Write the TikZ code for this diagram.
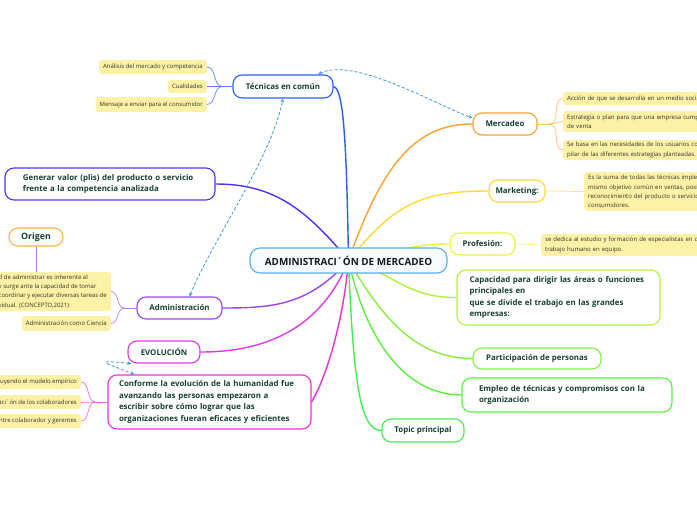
\documentclass[tikz,border=0pt]{standalone}
\usepackage{fontspec}
\setmainfont{Open Sans}
\usetikzlibrary{arrows.meta,backgrounds}
\definecolor{txt}{HTML}{173F35}
\definecolor{leaftxt}{HTML}{33332A}
\definecolor{leafy}{HTML}{FDF1A6}
\definecolor{cenblue}{HTML}{5AAEE8}
\definecolor{cenfill}{HTML}{F7FBFE}
\definecolor{cblue}{HTML}{2F5CF5}
\definecolor{cviolet}{HTML}{4A35EE}
\definecolor{cpurple}{HTML}{9B44F0}
\definecolor{cmag}{HTML}{E03AE6}
\definecolor{cpink}{HTML}{F02ED6}
\definecolor{corange}{HTML}{FFA234}
\definecolor{corange2}{HTML}{FFB04A}
\definecolor{cyellow}{HTML}{FFD83A}
\definecolor{cyg}{HTML}{EAF23F}
\definecolor{clg}{HTML}{B3F03E}
\definecolor{cg1}{HTML}{88EE44}
\definecolor{cg2}{HTML}{5EEE44}
\definecolor{cg3}{HTML}{44EE55}
\definecolor{lblue}{HTML}{5A85FF}
\definecolor{lorange}{HTML}{FFC06A}
\definecolor{lyellow}{HTML}{FFE36A}
\definecolor{lyg}{HTML}{F3F78A}
\definecolor{lpurple}{HTML}{B77CF5}
\definecolor{lpink}{HTML}{F56ADF}
\definecolor{relblue}{HTML}{3A96E8}
\begin{document}
\begin{tikzpicture}[x=1pt,y=-1pt,
  topic/.style={draw, line width=1.1pt, rounded corners=9pt, fill=white, text=txt,
    font=\fontsize{7.9}{11.5}\selectfont\bfseries, inner sep=0pt},
  leaf/.style={fill=leafy, rounded corners=3pt, text=leaftxt,
    font=\fontsize{6}{9.2}\selectfont, inner xsep=4pt, inner ysep=2pt, align=left, minimum height=14pt},
  conn/.style={line width=1.4pt},
  lconn/.style={line width=0.7pt},
  rel/.style={draw=relblue, line width=0.8pt, dash pattern=on 3pt off 2pt,
    {Stealth[length=4pt,width=3.5pt]}-{Stealth[length=4pt,width=3.5pt]}}]

\useasboundingbox (0,0) rectangle (697,520);

% central
\node[topic, draw=cenblue, fill=cenfill, minimum width=197pt, minimum height=25pt, text=black!90,
  font=\fontsize{9.9}{11}\selectfont\bfseries, rounded corners=10pt] (cen) at (348.5,260.5) {ADMINISTRACI´ÓN DE MERCADEO};

% topics
\node[topic, draw=cblue, minimum width=100pt, minimum height=23pt] (tec) at (283,86.5) {Técnicas en común};
\node[topic, draw=corange, minimum width=64pt, minimum height=22pt] (mer) at (505,124) {Mercadeo};
\node[topic, draw=cyellow, minimum width=56pt, minimum height=22pt] (mkt) at (517,191) {Marketing:};
\node[topic, draw=cyg, minimum width=65pt, minimum height=22pt] (pro) at (482.5,244) {Profesión:};
\node[topic, draw=clg, minimum width=203pt, minimum height=55pt, align=left, text width=178pt] (cap) at (558.5,297.5)
  {Capacidad para dirigir las áreas o funciones\\principales en\\que se divide el trabajo en las grandes\\empresas:};
\node[topic, draw=cg1, minimum width=128pt, minimum height=21pt] (par) at (537,358.5) {Participación de personas};
\node[topic, draw=cg2, minimum width=210pt, minimum height=34pt, align=left, text width=176pt] (emp) at (567,395)
  {Empleo de técnicas y compromisos con la\\organización};
\node[topic, draw=cg3, minimum width=82pt, minimum height=23pt] (top) at (423,430.5) {Topic principal};
\node[topic, draw=cviolet, minimum width=210pt, minimum height=32pt, align=left, text width=174pt] (gen) at (110,184)
  {Generar valor (plis) del producto o servicio\\frente a la competencia analizada};
\node[topic, draw=corange2, minimum width=54pt, minimum height=18pt, font=\fontsize{8.8}{10}\selectfont\bfseries] (ori) at (36,237) {Origen};
\node[topic, draw=cpurple, minimum width=85pt, minimum height=22pt] (adm) at (179.5,308) {Administración};
\node[topic, draw=cmag, minimum width=72pt, minimum height=22pt] (evo) at (164,352) {EVOLUCIÓN};
\node[topic, draw=cpink, minimum width=203pt, minimum height=54pt, align=left, text width=181pt] (con) at (209.5,402)
  {Conforme la evolución de la humanidad fue\\avanzando las personas empezaron a\\escribir sobre cómo lograr que las\\organizaciones fueran eficaces y eficientes};

% leaves
\node[leaf, anchor=east] (t1) at (207,67) {Análisis del mercado y competencia};
\node[leaf, anchor=east, minimum height=13pt] (t2) at (207,86.5) {Cualidades};
\node[leaf, anchor=east, minimum height=15pt] (t3) at (207,104.5) {Mensaje a enviar para el consumidor};

\node[leaf, anchor=west, text width=150pt, minimum height=13pt] (m1) at (563,98.5) {Acción de que se desarrolla en un medio socia};
\node[leaf, anchor=west, text width=150pt, minimum height=21pt] (m2) at (563,121.5) {Estrategia o plan para que una empresa cump\\de venta};
\node[leaf, anchor=west, text width=150pt, minimum height=20pt] (m3) at (563,150) {Se basa en las necesidades de los usuarios co\\pilar de las diferentes estrategias planteadas.};

\node[leaf, anchor=west, text width=130pt, minimum height=39pt] (k1) at (584,191.5)
  {Es la suma de todas las técnicas implem\\mismo objetivo común en ventas, posi\\reconocimiento del producto o servicio\\consumidores.};
\node[leaf, anchor=west, text width=170pt, minimum height=22pt] (p1) at (541,245)
  {se dedica al estudio y formación de especialistas en di\\trabajo humano en equipo.};

\node[leaf, anchor=east, minimum height=39pt] (a1) at (111,291.5)
  {d de administrar es inherente al\\y surge ante la capacidad de tomar\\coordinar y ejecutar diversas tareas de\\vidual. (CONCEPTO,2021)};
\node[leaf, anchor=east, minimum height=15pt] (a2) at (111,323.5) {Administración como Ciencia};

\node[leaf, anchor=east] (c1) at (81,382) {uyendo el modelo empírico};
\node[leaf, anchor=east] (c2) at (81,402) {aci´ón de los colaboradores};
\node[leaf, anchor=east] (c3) at (81,421) {ntre colaborador y gerentes};

% junctions
\path (tec.west) ++(-10,0) coordinate (tj);
\path (mer.east) ++(12,0) coordinate (mj);
\path (adm.west) ++(-12,0) coordinate (aj);
\path (con.west) ++(-12,0) coordinate (cj);

\begin{scope}[on background layer]
\fill[white] (0,0) rectangle (697,520);
% main connectors
\draw[conn, draw=cblue] (cen.center) .. controls +(-2,-120) and +(10,2) .. (tec.east);
\draw[conn, draw=cviolet] (cen.center) .. controls +(-45,-55) and +(55,0) .. (gen.east);
\draw[conn, draw=cpurple] (cen.center) .. controls +(-40,45) and +(50,0) .. (adm.east);
\draw[conn, draw=cmag] (cen.center) .. controls +(-30,75) and +(55,0) .. (evo.east);
\draw[conn, draw=cpink] (cen.center) .. controls +(-5,60) and +(15,-25) .. (con.east);
\draw[conn, draw=corange] (cen.center) .. controls +(35,-100) and +(-55,0) .. (mer.west);
\draw[conn, draw=cyellow] (cen.center) .. controls +(45,-55) and +(-70,0) .. (mkt.west);
\draw[conn, draw=cyg] (cen.center) .. controls +(50,-8) and +(-40,0) .. (pro.west);
\draw[conn, draw=clg] (cen.center) .. controls +(50,15) and +(-50,0) .. (cap.west);
\draw[conn, draw=cg1] (cen.center) .. controls +(35,60) and +(-55,0) .. (par.west);
\draw[conn, draw=cg2] (cen.center) .. controls +(20,90) and +(-50,0) .. (emp.west);
\draw[conn, draw=cg3] (cen.center) .. controls +(5,130) and +(-20,0) .. (top.west);

% leaf connectors
\draw[lconn, draw=lblue] (tec.west) -- (tj);
\draw[lconn, draw=lblue] (tj) to[out=180,in=0] (t1.east);
\draw[lconn, draw=lblue] (tj) to[out=180,in=0] (t2.east);
\draw[lconn, draw=lblue] (tj) to[out=180,in=0] (t3.east);
\draw[lconn, draw=lorange] (mer.east) -- (mj);
\draw[lconn, draw=lorange] (mj) to[out=0,in=180] (m1.west);
\draw[lconn, draw=lorange] (mj) to[out=0,in=180] (m2.west);
\draw[lconn, draw=lorange] (mj) to[out=0,in=180] (m3.west);
\draw[lconn, draw=lyellow] (mkt.east) to[out=0,in=180] (k1.west);
\draw[lconn, draw=lyg] (pro.east) to[out=0,in=180] (p1.west);
\draw[lconn, draw=lpurple] (adm.west) -- (aj);
\draw[lconn, draw=lpurple] (aj) to[out=180,in=0] (a1.east);
\draw[lconn, draw=lpurple] (aj) to[out=180,in=0] (a2.east);
\draw[lconn, draw=lpurple] (ori.south) -- (ori.south |- a1.north);
\draw[lconn, draw=lpink] (con.west) -- (cj);
\draw[lconn, draw=lpink] (cj) to[out=180,in=0] (c1.east);
\draw[lconn, draw=lpink] (cj) to[out=180,in=0] (c2.east);
\draw[lconn, draw=lpink] (cj) to[out=180,in=0] (c3.east);
\end{scope}

% relations
\draw[rel] ([xshift=35pt]tec.north) .. controls +(35,-18) and +(-40,-15) .. ([yshift=6pt]mer.west);
\draw[rel] ([xshift=10pt]adm.north) .. controls +(25,-60) and +(-12,60) .. (tec.south);
\draw[rel] ([xshift=4pt]evo.south west) .. controls +(-40,-4) and +(-30,-12) .. ([xshift=27pt]con.north west);
\end{tikzpicture}
\end{document}
